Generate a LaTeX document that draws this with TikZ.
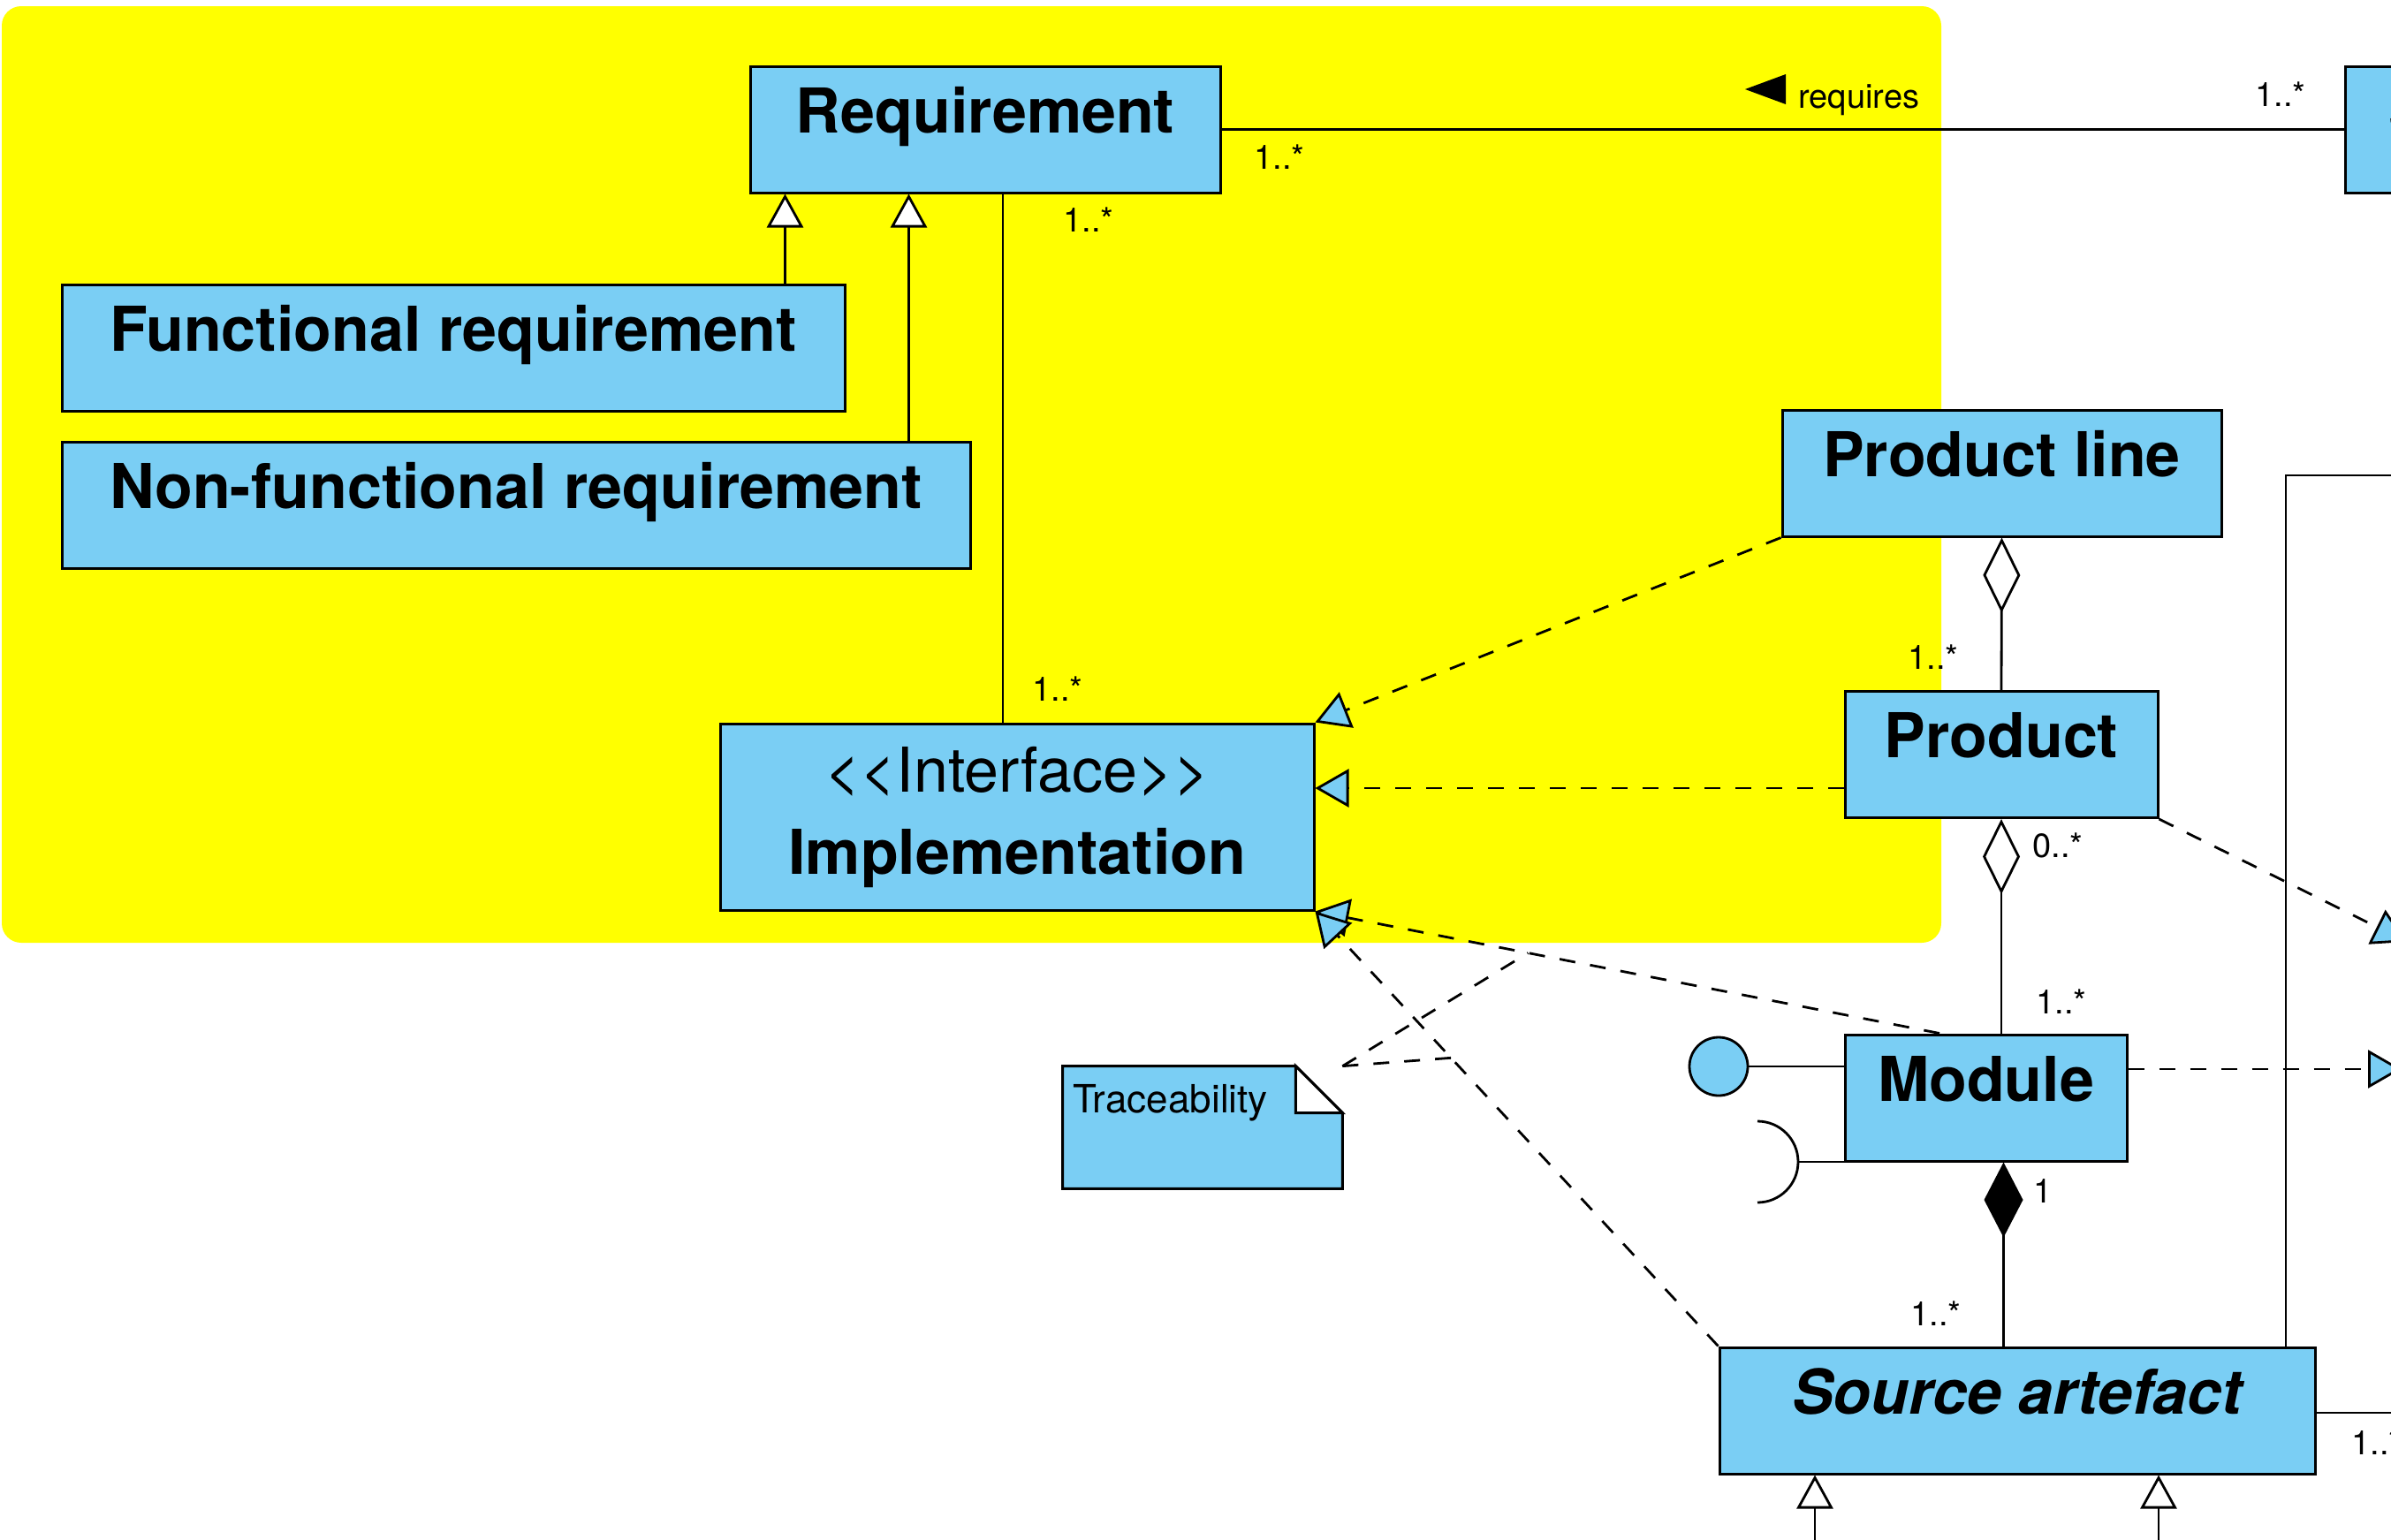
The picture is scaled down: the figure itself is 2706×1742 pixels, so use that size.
\documentclass[tikz,border=0pt]{standalone}
\usepackage{fontspec}
\setmainfont{TeX Gyre Heros}
\usetikzlibrary{arrows.meta}
\definecolor{umlblue}{RGB}{122,206,244}
\definecolor{pkgyellow}{RGB}{255,255,0}

\begin{document}
\begin{tikzpicture}[
	x=0.5pt, y=-0.5pt,
	box/.style={
		rectangle,
		draw,
		line width=1.5pt,
		fill=umlblue,
		inner sep=0pt
	},
	cls/.style={
		box,
		text height=37.5pt,
		text depth=34pt,
		font=\bfseries\fontsize{35}{42}\selectfont
	},
	mult/.style={inner sep=0pt, font=\fontsize{19}{23}\selectfont},
	assoc/.style={line width=1.4pt},
	gen/.style={% generalisation, open triangle
		line width=1.4pt,
		-{Triangle[length=19pt,width=20.5pt,fill=white]}
	},
	realize/.style={% dashed, blue triangle
		line width=1.4pt,
		dash pattern=on 9pt off 8.5pt,
		-{Triangle[length=19pt,width=21.5pt,fill=umlblue]}
	},
	aggr/.style={
		line width=1.4pt,
		{Diamond[length=42.5pt,width=21pt,fill=white]}-
	},
	comp/.style={
		line width=1.4pt,
		{Diamond[length=42.5pt,width=22pt,fill=black]}-
	},
	attach/.style={line width=1.4pt, dash pattern=on 9pt off 8.5pt},
]
	\useasboundingbox (0,0) rectangle (2706,1742);
	\clip (0,0) rectangle (2706,1742);

	% requirements package
	\fill [pkgyellow, rounded corners=11pt] (2,7) rectangle (2197,1067);

	\node [cls, minimum width=266pt] (req) at (1115,146.5) {Requirement};
	\node [cls, minimum width=443pt] (func) at (513,393.5) {Functional requirement};
	\node [cls, minimum width=514pt] (nonfunc) at (584,571.5) {Non-functional requirement};
	\node [box, minimum width=336pt, minimum height=105.5pt, align=center,
		font=\fontsize{35}{46.5}\selectfont] (impl) at (1151,924.5)
		{\textless\kern0pt\textless\kern0pt Interface\kern0pt\textgreater\kern0pt\textgreater\\\textbf{Implementation}};

	\node [cls, minimum width=249pt] (stake) at (2903,146.5) {Stakeholder};
	\node [cls, minimum width=248.5pt] (pline) at (2265.5,535.5) {Product line};
	\node [cls, minimum width=177pt] (product) at (2265,854) {Product};
	\node [cls, minimum width=159.5pt] (module) at (2247.5,1242.5) {Module};
	\node [cls, minimum width=337pt, font=\bfseries\itshape\fontsize{35}{42}\selectfont] (source) at (2283,1596.5) {Source artefact};

	% note
	\node [inner sep=0pt, minimum width=158pt, minimum height=69pt] (note) at (1361,1276) {};
	\filldraw [fill=umlblue, line width=1.5pt] (note.north west) -- ([xshift=-26.5pt]note.north east)
		-- ([yshift=-26.5pt]note.north east) -- (note.south east) -- (note.south west) -- cycle;
	\filldraw [fill=white, line width=1.5pt] ([xshift=-26.5pt]note.north east)
		-- ([xshift=-26.5pt,yshift=-26.5pt]note.north east) -- ([yshift=-26.5pt]note.north east) -- cycle;
	\node [anchor=base west, inner sep=0pt, font=\fontsize{22}{26}\selectfont] (notetxt)
		at ([xshift=5.5pt,yshift=-26.5pt]note.north west) {Traceability};

	\draw [gen] ([xshift=-34.5pt]func.north east) -- ([xshift=-34.5pt]func.north east |- req.south);
	\draw [gen] ([xshift=-35.5pt]nonfunc.north east) -- ([xshift=-35.5pt]nonfunc.north east |- req.south);
	\draw [assoc] ([xshift=10pt]req.south) -- ([xshift=10pt]req.south |- impl.north);
	\draw [assoc] (req.east) -- (stake.west);

	\draw [realize] (pline.south west) -- (impl.north east);
	\draw [realize] ([yshift=-19pt]product.west) -- ([yshift=-19pt]product.west -| impl.east);
	\draw [realize] ([xshift=-26.25pt]module.north) -- coordinate[pos=0.659] (tr1) (impl.south east);
	\draw [realize] (source.north west) -- coordinate[pos=0.663] (tr2) (impl.south east);
	\draw [attach] (note.north east) -- (tr1);
	\draw [attach] (note.north east) -- (tr2);

	\draw [aggr] (pline.south) -- (product.north);
	\draw [aggr] (product.south) -- (product.south |- module.north);
	\draw [comp] ([xshift=10pt]module.south) -- ([xshift=10pt]module.south |- source.north);

	% provided and required interfaces
	\node [circle, draw, fill=umlblue, line width=1.4pt, minimum size=33pt, inner sep=0pt] (ball) at (1945,1207) {};
	\draw [assoc] (ball) -- (ball -| module.west);
	\coordinate (sock) at (1989,1315);
	\draw [assoc] ([yshift=23pt]sock) arc[start angle=90, end angle=-90, radius=23pt];
	\draw [assoc] ([xshift=23pt]sock) -- (sock -| module.west);

	% links leaving the picture
	\coordinate (prodtip) at (2724,1066);
	\coordinate (modtip) at (2718,1210);
	\coordinate (plturn) at (2587,538);
	\coordinate (plend) at (2760,538);
	\coordinate (srcend) at (2760,1599);
	\coordinate (sub1) at (2054,1760);
	\coordinate (sub2) at (2443,1760);
	\draw [realize] (product.south east) -- (prodtip);
	\draw [realize] ([yshift=16.25pt]module.east) -- (modtip);
	\draw [assoc] (plturn |- source.north) -- (plturn) -- (plend);
	\draw [assoc] (srcend -| source.east) -- (srcend);
	\draw [gen] (sub1) -- (sub1 |- source.south);
	\draw [gen] (sub2) -- (sub2 |- source.south);

	% labels
	\node [mult, anchor=base west] (reqlbl) at (2035,122) {requires};
	\fill ([xshift=-7pt,yshift=2pt]reqlbl.base west) -- ++(0,-34) -- ++(-46,17) -- cycle;
	\node [mult] (m1) at (1232,249) {1..*};
	\node [mult] (m2) at (1197,780) {1..*};
	\node [mult] (m3) at (1448,178) {1..*};
	\node [mult] (m4) at (2581,107) {1..*};
	\node [mult] (m5) at (2188,744) {1..*};
	\node [mult] (m6) at (2329,957) {0..*};
	\node [mult] (m7) at (2333,1134) {1..*};
	\node [mult] (m8) at (2312,1348) {1};
	\node [mult] (m9) at (2191,1487) {1..*};
	\node [mult] (m10) at (2690,1633) {1..*};
\end{tikzpicture}
\end{document}
